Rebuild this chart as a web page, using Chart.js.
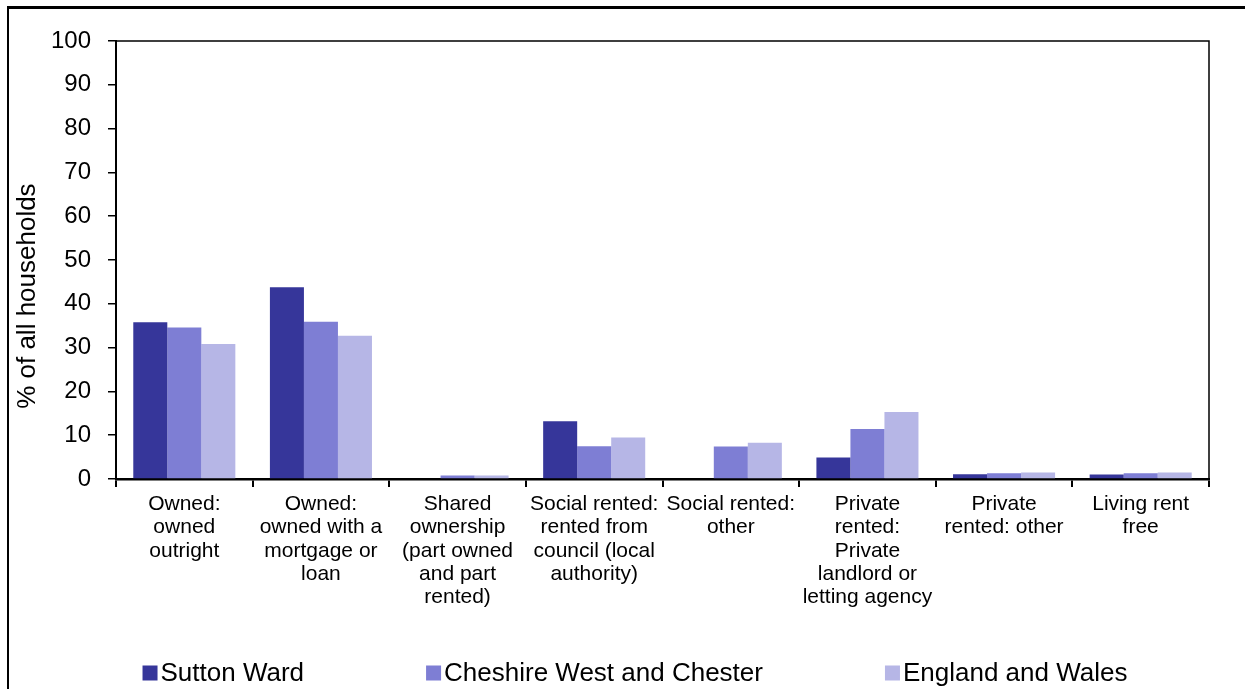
<!DOCTYPE html>
<html>
<head>
<meta charset="utf-8">
<script src="https://cdn.jsdelivr.net/npm/chart.js@4/dist/chart.umd.min.js"></script>
<style>
  html, body { margin: 0; padding: 0; background: #fff; overflow: hidden; }
  .frame {
    position: absolute; left: 7px; top: 6px; width: 1300px; height: 750px;
    border-top: 3px solid #000; border-left: 2px solid #000;
  }
  .chart-wrap { position: absolute; left: 0; top: 0; width: 1245px; height: 689px; }
</style>
</head>
<body>
<div class="frame"></div>
<div class="chart-wrap"><canvas id="tenure-chart" width="1245" height="689"></canvas></div>
<script>
const categories = [
  ['Owned:', 'owned', 'outright'],
  ['Owned:', 'owned with a', 'mortgage or', 'loan'],
  ['Shared', 'ownership', '(part owned', 'and part', 'rented)'],
  ['Social rented:', 'rented from', 'council (local', 'authority)'],
  ['Social rented:', 'other'],
  ['Private', 'rented:', 'Private', 'landlord or', 'letting agency'],
  ['Private', 'rented: other'],
  ['Living rent', 'free'],
];
const suttonWard = [35.8, 43.8, 0, 13.2, 0, 4.9, 1.1, 1.0];
const cheshireWest = [34.6, 35.9, 0.8, 7.5, 7.4, 11.4, 1.3, 1.3];
const englandWales = [30.8, 32.7, 0.8, 9.5, 8.3, 15.3, 1.5, 1.5];
const yTicks = [0, 10, 20, 30, 40, 50, 60, 70, 80, 90, 100];

const FONT = "'Liberation Sans', Arial, sans-serif";

// top and right edges of the plot box
const plotBox = {
  id: 'plotBox',
  afterDraw(chart) {
    const { ctx, chartArea: a } = chart;
    ctx.save();
    ctx.strokeStyle = '#000';
    ctx.lineWidth = 1.5;
    ctx.beginPath();
    ctx.moveTo(a.left, a.top);
    ctx.lineTo(a.right, a.top);
    ctx.lineTo(a.right, a.bottom);
    ctx.stroke();
    ctx.restore();
  },
};

// wide-spaced legend along the bottom, built from the datasets
const wideLegend = {
  id: 'wideLegend',
  afterDraw(chart) {
    const { ctx } = chart;
    const sets = chart.data.datasets;
    const box = 15, gapText = 3, gapItem = 122, y = 673;
    ctx.save();
    ctx.font = '26px ' + FONT;
    ctx.textBaseline = 'middle';
    ctx.textAlign = 'left';
    const widths = sets.map(ds => box + gapText + ctx.measureText(ds.label).width);
    const total = widths.reduce((s, w) => s + w, 0) + gapItem * (sets.length - 1);
    let x = 635 - total / 2;
    sets.forEach((ds, i) => {
      ctx.fillStyle = ds.backgroundColor;
      ctx.fillRect(x, y - box / 2, box, box);
      ctx.fillStyle = '#000';
      ctx.fillText(ds.label, x + box + gapText, y + 1);
      x += widths[i] + gapItem;
    });
    ctx.restore();
  },
};

const canvas = document.getElementById('tenure-chart');
new Chart(canvas, {
  type: 'bar',
  data: {
    labels: categories,
    datasets: [
      { label: 'Sutton Ward', data: suttonWard, backgroundColor: '#36369A' },
      { label: 'Cheshire West and Chester', data: cheshireWest, backgroundColor: '#7E7ED4' },
      { label: 'England and Wales', data: englandWales, backgroundColor: '#B6B6E6' },
    ],
  },
  options: {
    responsive: false,
    animation: false,
    layout: { padding: { left: 0, right: 36, top: 41, bottom: 78 } },
    datasets: {
      bar: { categoryPercentage: 0.747, barPercentage: 1, borderWidth: 0 },
    },
    plugins: {
      legend: { display: false },
      tooltip: { enabled: false },
    },
    scales: {
      x: {
        grid: {
          display: true,
          drawOnChartArea: false,
          drawTicks: true,
          tickLength: 8,
          color: '#000',
          lineWidth: 2,
        },
        border: { color: '#000', width: 2.5 },
        ticks: {
          color: '#000',
          font: { family: FONT, size: 21, lineHeight: 1.1 },
          padding: 6,
          maxRotation: 0,
          autoSkip: false,
        },
        afterFit(scale) { scale.height = 132; },
      },
      y: {
        min: 0,
        max: 100,
        afterBuildTicks(scale) { scale.ticks = yTicks.map(v => ({ value: v })); },
        grid: {
          drawOnChartArea: false,
          drawTicks: true,
          tickLength: 8,
          color: '#000',
          lineWidth: 1.5,
        },
        border: { color: '#000', width: 2 },
        ticks: {
          color: '#000',
          font: { family: FONT, size: 24 },
          padding: 17,
          autoSkip: false,
        },
        title: {
          display: true,
          // trailing nbsp pushes the centred title down a little, like the original
          text: '% of all households' + '\u00A0'.repeat(10),
          color: '#000',
          font: { family: FONT, size: 26, lineHeight: 1.2 },
          padding: { top: 12, bottom: 0 },
        },
        afterFit(scale) { scale.width = 116; },
      },
    },
  },
  plugins: [plotBox, wideLegend],
});
</script>
</body>
</html>
